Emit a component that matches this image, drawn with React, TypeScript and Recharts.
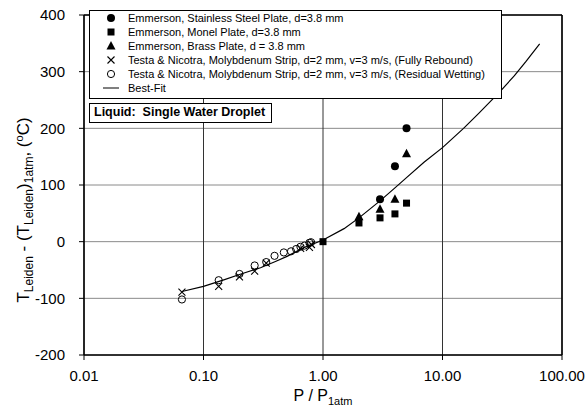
import React from "react";
import {
  ScatterChart,
  Scatter,
  XAxis,
  YAxis,
  CartesianGrid,
  ReferenceLine,
  Legend,
} from "recharts";

// pressure ratio P / P1atm and temperature shift (°C) for each data set
const stainlessP = [3, 4, 5];
const stainlessT = [75, 133, 200];

const monelP = [1, 2, 3, 4, 5];
const monelT = [0, 33, 42, 49, 68];

const brassP = [2, 3, 4, 5];
const brassT = [44, 57, 75, 155];

const reboundP = [0.066, 0.134, 0.2, 0.268, 0.335, 0.65, 0.77, 0.8];
const reboundT = [-89, -79, -62, -52, -38, -12, -10, -5];

const wettingP = [
  0.066, 0.134, 0.2, 0.268, 0.335, 0.393, 0.47, 0.54, 0.596, 0.647, 0.698,
  0.77, 0.794,
];
const wettingT = [-102, -68, -57, -42, -36, -25, -19, -17, -13, -9, -7, -2, -1];

const fitP = [
  0.066, 0.1, 0.15, 0.2, 0.3, 0.4, 0.5, 0.7, 1, 1.5, 2, 3, 4, 5, 7, 10, 15, 20,
  30, 40, 50, 65,
];
const fitT = [
  -88, -79, -67, -58, -46, -35, -26, -10, 3, 23, 42, 72, 95, 113, 140, 166, 200,
  226, 264, 293, 318, 349,
];

const xTicks = [0.01, 0.1, 1, 10, 100];
const xMinorTicks = [
  0.02, 0.03, 0.04, 0.05, 0.06, 0.07, 0.08, 0.09, 0.2, 0.3, 0.4, 0.5, 0.6, 0.7,
  0.8, 0.9, 2, 3, 4, 5, 6, 7, 8, 9, 20, 30, 40, 50, 60, 70, 80, 90,
];
const yTicks = [-200, -100, 0, 100, 200, 300, 400];

const toPoints = (ps: number[], ts: number[]) =>
  ps.map((p, i) => ({ p, t: ts[i] }));

type Pt = { cx?: number; cy?: number };

const Dot = ({ cx = 0, cy = 0 }: Pt) => (
  <circle cx={cx} cy={cy} r={4} fill="#000" />
);
const Square = ({ cx = 0, cy = 0 }: Pt) => (
  <rect x={cx - 3.5} y={cy - 3.5} width={7} height={7} fill="#000" />
);
const Tri = ({ cx = 0, cy = 0 }: Pt) => (
  <polygon
    points={`${cx},${cy - 5} ${cx + 4.5},${cy + 3.5} ${cx - 4.5},${cy + 3.5}`}
    fill="#000"
  />
);
const Cross = ({ cx = 0, cy = 0 }: Pt) => (
  <path
    d={`M${cx - 3.5},${cy - 3.5}L${cx + 3.5},${cy + 3.5}M${cx + 3.5},${cy - 3.5}L${cx - 3.5},${cy + 3.5}`}
    stroke="#000"
    strokeWidth={1.1}
    fill="none"
  />
);
const Ring = ({ cx = 0, cy = 0 }: Pt) => (
  <circle cx={cx} cy={cy} r={3.6} fill="none" stroke="#000" strokeWidth={1} />
);
const NoMark = () => <g />;

const series = [
  { name: "Emmerson, Stainless Steel Plate, d=3.8 mm", p: stainlessP, t: stainlessT, Mark: Dot },
  { name: "Emmerson, Monel Plate, d=3.8 mm", p: monelP, t: monelT, Mark: Square },
  { name: "Emmerson, Brass Plate, d = 3.8 mm", p: brassP, t: brassT, Mark: Tri },
  { name: "Testa & Nicotra, Molybdenum Strip, d=2 mm, v=3 m/s, (Fully Rebound)", p: reboundP, t: reboundT, Mark: Cross },
  { name: "Testa & Nicotra, Molybdenum Strip, d=2 mm, v=3 m/s, (Residual Wetting)", p: wettingP, t: wettingT, Mark: Ring },
];

const font = "Arial, 'Liberation Sans', Helvetica, sans-serif";

const rowStyle: React.CSSProperties = {
  display: "flex",
  alignItems: "center",
  height: 14,
  whiteSpace: "nowrap",
};

function LegendBox() {
  return (
    <div
      style={{
        border: "1px solid #000",
        background: "#fff",
        width: 413,
        height: 89,
        boxSizing: "border-box",
        paddingTop: 0,
        fontFamily: font,
        fontSize: 11,
        color: "#000",
        overflow: "hidden",
      }}
    >
      {series.map(({ name, Mark }) => (
        <div key={name} style={rowStyle}>
          <svg width={14} height={14} style={{ marginLeft: 14, marginRight: 10, flex: "none" }}>
            <Mark cx={7} cy={7} />
          </svg>
          <span>{name}</span>
        </div>
      ))}
      <div style={rowStyle}>
        <svg width={18} height={14} style={{ marginLeft: 12, marginRight: 8, flex: "none" }}>
          <line x1={1} y1={7} x2={17} y2={7} stroke="#000" strokeWidth={1} />
        </svg>
        <span>Best-Fit</span>
      </div>
    </div>
  );
}

function YTitle() {
  return (
    <text
      x={29}
      y={210}
      transform="rotate(-90, 29, 210)"
      textAnchor="middle"
      fontSize={17}
      fontFamily={font}
      fill="#000"
    >
      T<tspan fontSize={12} dy={4}>Leiden</tspan>
      <tspan dy={-4}> - (T</tspan>
      <tspan fontSize={12} dy={4}>Leiden</tspan>
      <tspan dy={-4}>)</tspan>
      <tspan fontSize={12} dy={4}>1atm</tspan>
      <tspan dy={-4}>, (</tspan>
      <tspan fontSize={11} dy={-6}>o</tspan>
      <tspan dy={6}>C)</tspan>
    </text>
  );
}

function XTitle() {
  return (
    <text x={323} y={401} textAnchor="middle" fontSize={16} fontFamily={font} fill="#000">
      P / P<tspan fontSize={11} dy={4}>1atm</tspan>
    </text>
  );
}

export default function App() {
  const fit = toPoints(fitP, fitT);
  return (
    <div
      style={{
        position: "absolute",
        left: 0,
        top: 0,
        width: 587,
        height: 417,
        background: "#fff",
      }}
    >
      <ScatterChart
        width={587}
        height={417}
        margin={{ top: 15, right: 25, bottom: 22, left: 0 }}
        style={{ fontFamily: font }}
      >
        <CartesianGrid horizontal vertical={false} stroke="#8a8a8a" strokeWidth={1} />
        <CartesianGrid horizontal={false} vertical stroke="#333" strokeWidth={1} />
        <XAxis
          xAxisId="minor"
          dataKey="p"
          type="number"
          scale="log"
          domain={[0.01, 100]}
          allowDataOverflow
          ticks={xMinorTicks}
          height={0}
          tickSize={3}
          axisLine={false}
          tick={() => <g />}
          tickLine={{ stroke: "#000" }}
        />
        <XAxis
          dataKey="p"
          type="number"
          scale="log"
          domain={[0.01, 100]}
          allowDataOverflow
          ticks={xTicks}
          tickFormatter={(v: number) => v.toFixed(2)}
          height={40}
          tickSize={5}
          tickMargin={10}
          interval={0}
          tick={{ fill: "#000", fontSize: 15 }}
          axisLine={{ stroke: "#000", strokeWidth: 1.5 }}
          tickLine={{ stroke: "#000" }}
          label={<XTitle />}
        />
        <YAxis
          dataKey="t"
          type="number"
          domain={[-200, 400]}
          ticks={yTicks}
          interval={0}
          width={84}
          tickSize={5}
          tickMargin={14}
          tick={{ fill: "#000", fontSize: 15 }}
          axisLine={{ stroke: "#000", strokeWidth: 1.5 }}
          tickLine={{ stroke: "#000" }}
          label={<YTitle />}
        />
        <ReferenceLine y={400} stroke="#000" strokeWidth={1.5} />
        <ReferenceLine x={100} stroke="#000" strokeWidth={1.5} />
        <Scatter
          name="Best-Fit"
          data={fit}
          line={{ stroke: "#000", strokeWidth: 1.2 }}
          lineType="joint"
          shape={NoMark}
          legendType="none"
          isAnimationActive={false}
        />
        {series.map(({ name, p, t, Mark }) => (
          <Scatter
            key={name}
            name={name}
            data={toPoints(p, t)}
            shape={(props: Pt) => <Mark cx={props.cx} cy={props.cy} />}
            isAnimationActive={false}
          />
        ))}
        <Legend
          layout="vertical"
          align="center"
          verticalAlign="middle"
          content={() => <LegendBox />}
          wrapperStyle={{ left: 89, top: 10, width: 413, height: 89 }}
        />
      </ScatterChart>
      <div
        style={{
          position: "absolute",
          left: 89,
          top: 103,
          width: 183,
          height: 20,
          boxSizing: "border-box",
          border: "1.5px solid #000",
          background: "#fff",
          fontFamily: font,
          fontWeight: "bold",
          fontSize: 12.5,
          lineHeight: "17px",
          paddingLeft: 4,
          whiteSpace: "pre",
          color: "#000",
        }}
      >
        {"Liquid:  Single Water Droplet"}
      </div>
    </div>
  );
}
